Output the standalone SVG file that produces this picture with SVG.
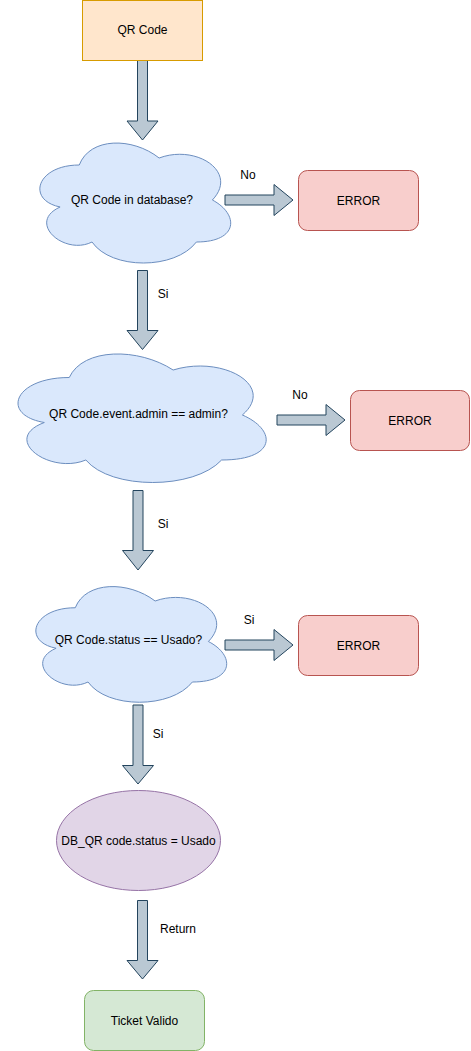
<svg xmlns="http://www.w3.org/2000/svg" width="471" height="1051" viewBox="0 0 471 1051">
<style>
text{font-family:"Liberation Sans",Arial,Helvetica,sans-serif;font-size:12px;fill:#000;text-anchor:middle}
.arrow{fill:#bac8d3;stroke:#23445d;stroke-width:1}
.cloud{fill:#dae8fc;stroke:#6c8ebf;stroke-width:1}
.err{fill:#f8cecc;stroke:#b85450;stroke-width:1}
</style>
<rect width="471" height="1051" fill="#ffffff"/>
<g id="connectors">
<path class="arrow" d="M137.5,60.5 L147.5,60.5 L147.5,121 L158,121 L142.5,140 L127,121 L137.5,121 Z"/>
<path class="arrow" d="M225,195 L274,195 L274,184.5 L293,200 L274,215.5 L274,205 L225,205 Z"/>
<text x="248" y="179">No</text>
<path class="arrow" d="M137.5,270.5 L147.5,270.5 L147.5,330.5 L158,330.5 L142.5,349.5 L127,330.5 L137.5,330.5 Z"/>
<text x="163" y="298">Si</text>
<path class="arrow" d="M277,415 L326,415 L326,404.5 L345,420 L326,435.5 L326,425 L277,425 Z"/>
<text x="300" y="399">No</text>
<path class="arrow" d="M133,490.5 L143,490.5 L143,550.5 L153.5,550.5 L138,570 L122.5,550.5 L133,550.5 Z"/>
<text x="163" y="528">Si</text>
<path class="arrow" d="M225,640 L274,640 L274,629.5 L293,645 L274,660.5 L274,650 L225,650 Z"/>
<text x="249" y="624">Si</text>
<path class="arrow" d="M133,705 L143,705 L143,765.5 L153.5,765.5 L138,784 L122.5,765.5 L133,765.5 Z"/>
<text x="158" y="738">Si</text>
<path class="arrow" d="M137.5,900.5 L147.5,900.5 L147.5,960.5 L158,960.5 L142.5,979 L127,960.5 L137.5,960.5 Z"/>
<text x="178" y="933">Return</text>
</g>
<g id="qrcode">
<rect x="82.5" y="0.5" width="120" height="60" fill="#ffe6cc" stroke="#d79b00"/>
<text x="142.5" y="34">QR Code</text>
</g>
<g id="cloud1">
<path class="cloud" d="M79.25,165 C36.65,165 26,200 60.08,207 C26,222.4 64.34,256 92.03,242 C111.2,270 175.1,270 196.4,242 C239,242 239,214 212.38,200 C239,172 196.4,144 159.13,158 C132.5,137 89.9,137 79.25,165 Z"/>
<text x="132" y="204">QR Code in database?</text>
</g>
<g id="error1">
<rect class="err" x="298.5" y="170.5" width="120" height="60" rx="9" ry="9"/>
<text x="358.5" y="204.5">ERROR</text>
</g>
<g id="cloud2">
<path class="cloud" d="M69.25,377.5 C13.85,377.5 0,415 44.32,422.5 C0,439 49.86,475 85.87,460 C110.8,490 193.9,490 221.6,460 C277,460 277,430 242.38,415 C277,385 221.6,355 173.13,370 C138.5,347.5 83.1,347.5 69.25,377.5 Z"/>
<text x="138.5" y="418">QR Code.event.admin == admin?</text>
</g>
<g id="error2">
<rect class="err" x="350.5" y="390.5" width="119" height="60" rx="9" ry="9"/>
<text x="410" y="424.5">ERROR</text>
</g>
<g id="cloud3">
<path class="cloud" d="M75.25,607.75 C32.65,607.75 22,641.5 56.08,648.25 C22,663.1 60.34,695.5 88.03,682 C107.2,709 171.1,709 192.4,682 C235,682 235,655 208.38,641.5 C235,614.5 192.4,587.5 155.13,601 C128.5,580.75 85.9,580.75 75.25,607.75 Z"/>
<text x="128.5" y="644">QR Code.status == Usado?</text>
</g>
<g id="error3">
<rect class="err" x="298.5" y="615.5" width="120" height="60" rx="9" ry="9"/>
<text x="358.5" y="649.5">ERROR</text>
</g>
<g id="update">
<ellipse cx="138.5" cy="840.5" rx="82" ry="50" fill="#e1d5e7" stroke="#9673a6"/>
<text x="138.5" y="844.5">DB_QR code.status = Usado</text>
</g>
<g id="ticket">
<rect x="84.5" y="990.5" width="120" height="60" rx="9" ry="9" fill="#d5e8d4" stroke="#82b366"/>
<text x="144.5" y="1024.5">Ticket Valido</text>
</g>
</svg>
